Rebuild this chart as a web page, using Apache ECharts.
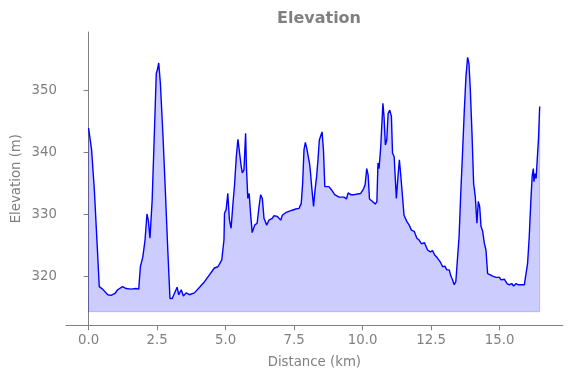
<!DOCTYPE html>
<html>
<head>
<meta charset="utf-8">
<script src="https://cdn.jsdelivr.net/npm/echarts@6/dist/echarts.min.js"></script>
<style>
  html, body { margin: 0; padding: 0; background: #fff; }
  #chart { width: 571px; height: 378px; }
</style>
</head>
<body>
<div id="chart"></div>
<script>
// distance along the route (km)
const distance = [
  0.00, 0.03, 0.11, 0.21, 0.31, 0.39, 0.51, 0.70, 0.82, 0.96,
  1.06, 1.24, 1.37, 1.55, 1.73, 1.83, 1.89, 1.98, 2.06, 2.13,
  2.18, 2.24, 2.32, 2.40, 2.47, 2.51, 2.56, 2.62, 2.71, 2.79,
  2.89, 2.97, 3.05, 3.13, 3.23, 3.29, 3.38, 3.46, 3.56, 3.68,
  3.86, 4.05, 4.23, 4.41, 4.59, 4.72, 4.86, 4.94, 4.96, 5.02,
  5.08, 5.14, 5.20, 5.26, 5.33, 5.39, 5.45, 5.51, 5.57, 5.61,
  5.67, 5.73, 5.76, 5.81, 5.86, 5.91, 5.97, 6.06, 6.15, 6.22,
  6.28, 6.34, 6.40, 6.50, 6.58, 6.70, 6.76, 6.89, 7.01, 7.07,
  7.19, 7.31, 7.43, 7.56, 7.68, 7.76, 7.81, 7.86, 7.91, 7.96,
  8.02, 8.07, 8.10, 8.14, 8.18, 8.21, 8.25, 8.32, 8.37, 8.42,
  8.47, 8.52, 8.57, 8.62, 8.69, 8.77, 8.86, 8.98, 9.14, 9.32,
  9.41, 9.47, 9.57, 9.69, 9.81, 9.93, 10.03, 10.09, 10.15, 10.20,
  10.25, 10.36, 10.46, 10.52, 10.56, 10.60, 10.66, 10.74, 10.78, 10.83,
  10.88, 10.93, 10.99, 11.05, 11.09, 11.15, 11.23, 11.29, 11.34, 11.39,
  11.45, 11.51, 11.61, 11.70, 11.78, 11.88, 11.98, 12.06, 12.15, 12.25,
  12.32, 12.37, 12.47, 12.55, 12.63, 12.73, 12.83, 12.92, 13.00, 13.07,
  13.16, 13.22, 13.28, 13.34, 13.40, 13.46, 13.52, 13.58, 13.65, 13.71,
  13.77, 13.83, 13.88, 13.93, 13.99, 14.05, 14.11, 14.17, 14.22, 14.27,
  14.32, 14.38, 14.44, 14.50, 14.56, 14.66, 14.74, 14.87, 14.99, 15.05,
  15.17, 15.27, 15.35, 15.44, 15.51, 15.60, 15.68, 15.80, 15.90, 15.97,
  16.02, 16.08, 16.14, 16.19, 16.23, 16.25, 16.29, 16.33, 16.39, 16.42,
  16.46
];

// elevation (m)
const elevation = [
  343.9, 344.1, 340.4, 334.0, 325.4, 318.4, 318.0, 317.1, 317.0, 317.3,
  317.9, 318.4, 318.1, 318.0, 318.1, 318.0, 321.6, 323.2, 325.9, 330.1,
  329.1, 326.2, 332.3, 343.1, 352.7, 353.3, 354.4, 351.1, 343.1, 335.0,
  324.3, 316.5, 316.5, 317.3, 318.3, 317.1, 317.9, 316.9, 317.4, 317.1,
  317.4, 318.3, 319.2, 320.3, 321.4, 321.6, 322.7, 325.9, 330.2, 330.8,
  333.4, 329.1, 327.8, 331.3, 335.0, 339.3, 342.1, 342.0, 337.7, 336.7,
  337.2, 343.1, 337.7, 332.6, 333.4, 330.2, 327.1, 328.3, 328.6, 331.3,
  333.2, 332.6, 329.4, 328.3, 329.1, 329.4, 329.8, 329.7, 329.1, 329.9,
  330.3, 330.5, 330.7, 330.9, 331.0, 331.8, 335.0, 340.4, 341.6, 340.7,
  340.5, 338.0, 336.6, 334.5, 334.8, 331.3, 333.4, 336.1, 338.8, 342.0,
  342.3, 343.3, 340.4, 334.5, 334.2, 334.5, 334.0, 333.2, 332.8, 332.8,
  332.5, 333.5, 333.2, 333.2, 333.3, 333.4, 334.1, 334.8, 337.4, 336.4,
  332.5, 332.1, 331.7, 332.1, 338.3, 337.4, 340.9, 347.9, 345.8, 341.2,
  342.0, 346.3, 346.8, 345.8, 339.9, 339.3, 332.6, 336.1, 338.8, 336.4,
  336.1, 329.9, 328.9, 328.3, 327.5, 327.3, 326.2, 325.9, 325.3, 325.5,
  325.8, 324.3, 324.0, 324.2, 323.5, 323.0, 322.4, 321.6, 321.7, 321.1,
  321.1, 320.1, 319.5, 318.7, 319.2, 319.5, 326.5, 333.4, 340.4, 346.8,
  352.2, 355.3, 354.3, 350.0, 343.1, 335.0, 332.9, 328.6, 332.1, 331.3,
  328.1, 327.3, 325.4, 324.3, 320.5, 320.3, 320.1, 319.9, 319.9, 319.5,
  319.6, 318.9, 318.7, 318.9, 318.5, 318.9, 318.7, 318.7, 318.7, 318.9,
  322.2, 326.5, 332.4, 336.4, 337.4, 335.3, 336.6, 335.8, 335.8, 342.5,
  347.4
];

const xTicks = [0, 2.5, 5, 7.5, 10, 12.5, 15];
const yTicks = [320, 330, 340, 350];
const fillBase = 314.37;

const gray = "#808080";
const profile = distance.map((d, i) => [d, elevation[i]]);
const last = distance.length - 1;
const fillEdge = [
  [distance[0], elevation[0]],
  [distance[0], fillBase],
  [distance[last], fillBase],
  [distance[last], elevation[last]]
];

const option = {
  animation: false,
  title: {
    text: "Elevation",
    left: 314,
    top: 6,
    textAlign: "center",
    textStyle: {
      color: gray,
      fontFamily: "DejaVu Sans",
      fontSize: 16,
      fontWeight: "bold"
    }
  },
  grid: {
    left: 66,
    right: 8.3,
    top: 32,
    bottom: 52.7
  },
  xAxis: {
    type: "value",
    min: -0.824,
    max: 17.30,
    name: "Distance (km)",
    nameLocation: "middle",
    nameGap: 31,
    nameMoveOverlap: false,
    nameTextStyle: { color: gray, fontFamily: "DejaVu Sans", fontSize: 13.3 },
    splitLine: { show: false },
    axisLine: { lineStyle: { color: gray, width: 1 } },
    axisTick: {
      customValues: xTicks,
      length: 5,
      lineStyle: { color: gray }
    },
    axisLabel: {
      customValues: xTicks,
      margin: 9,
      color: gray,
      fontFamily: "DejaVu Sans",
      fontSize: 13.3,
      formatter: v => v.toFixed(1)
    }
  },
  yAxis: {
    type: "value",
    min: 312.18,
    max: 359.38,
    name: "Elevation (m)",
    nameLocation: "middle",
    nameGap: 43,
    nameMoveOverlap: false,
    nameTextStyle: { color: gray, fontFamily: "DejaVu Sans", fontSize: 13.3 },
    splitLine: { show: false },
    axisLine: { show: true, lineStyle: { color: gray, width: 1 } },
    axisTick: {
      show: true,
      customValues: yTicks,
      length: 5,
      lineStyle: { color: gray }
    },
    axisLabel: {
      customValues: yTicks,
      margin: 9,
      color: gray,
      fontFamily: "DejaVu Sans",
      fontSize: 13.3
    }
  },
  series: [
    {
      name: "fill edge",
      type: "line",
      data: fillEdge,
      showSymbol: false,
      silent: true,
      lineStyle: { color: "rgba(0,0,255,0.2)", width: 1 }
    },
    {
      name: "Elevation",
      type: "line",
      data: profile,
      showSymbol: false,
      lineStyle: { color: "#0000ff", width: 1.4 },
      areaStyle: { color: "rgba(0,0,255,0.2)", origin: fillBase, opacity: 1 }
    }
  ]
};

const myChart = echarts.init(document.getElementById("chart"));
myChart.setOption(option);
</script>
</body>
</html>
